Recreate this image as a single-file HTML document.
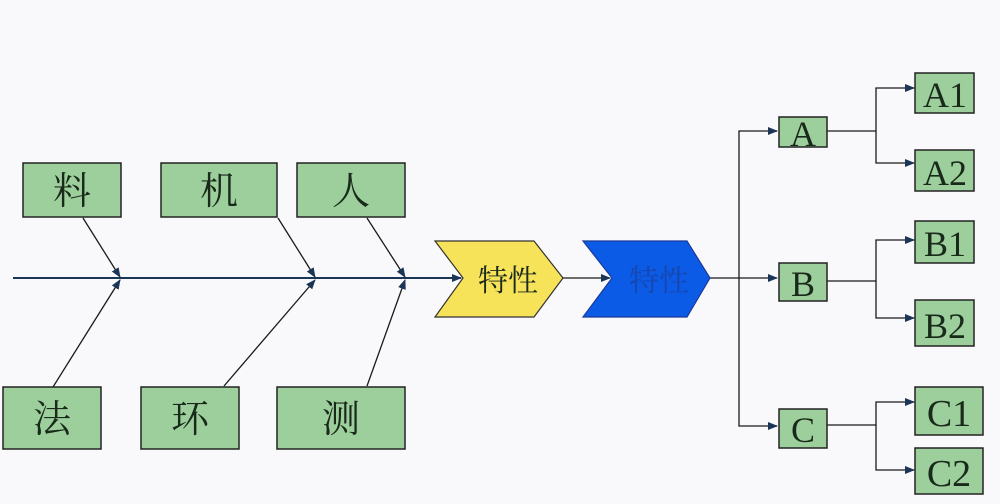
<!DOCTYPE html>
<html><head><meta charset="utf-8"><style>
html,body{margin:0;padding:0;background:#f9f9fb;}
svg{display:block}
text{font-family:"Liberation Serif","Noto Serif CJK SC",serif;fill:#1a2a1a}
.cj{font-family:"Liberation Serif","Noto Serif CJK SC",serif;font-weight:normal}
</style></head><body>
<svg width="1000" height="504" viewBox="0 0 1000 504" xmlns="http://www.w3.org/2000/svg">
<defs>
<marker id="ar" markerWidth="10" markerHeight="10" refX="9" refY="5" orient="auto" markerUnits="userSpaceOnUse">
<path d="M0,1 L10,5 L0,9 z" fill="#1b3556"/></marker>
</defs>
<rect width="1000" height="504" fill="#f9f9fb"/>
<g stroke="#1b3556" stroke-width="2" fill="none">
<line x1="13" y1="278" x2="461" y2="278" marker-end="url(#ar)"/>
</g>
<g stroke="#1a1a1a" stroke-width="1.3" fill="none">
<line x1="83" y1="218" x2="120" y2="277" marker-end="url(#ar)"/>
<line x1="53" y1="387" x2="120" y2="280" marker-end="url(#ar)"/>
<line x1="278" y1="218" x2="315" y2="277" marker-end="url(#ar)"/>
<line x1="224" y1="386" x2="315" y2="280" marker-end="url(#ar)"/>
<line x1="367" y1="218" x2="405" y2="277" marker-end="url(#ar)"/>
<line x1="367" y1="386" x2="405" y2="280" marker-end="url(#ar)"/>
<line x1="563" y1="278" x2="610" y2="278" marker-end="url(#ar)"/>
<line x1="710" y1="278" x2="777" y2="278" marker-end="url(#ar)"/>
<polyline points="777,131 739,131 739,426 777,426" />
<line x1="775" y1="131" x2="777" y2="131" marker-end="url(#ar)"/>
<line x1="775" y1="426" x2="777" y2="426" marker-end="url(#ar)"/>
<line x1="827" y1="131" x2="876" y2="131"/>
<polyline points="913,88 876,88 876,163 913,163"/>
<line x1="827" y1="281" x2="876" y2="281"/>
<polyline points="913,240 876,240 876,318 913,318"/>
<line x1="827" y1="425" x2="876" y2="425"/>
<polyline points="913,402 876,402 876,470 913,470"/>
<line x1="910" y1="88" x2="914" y2="88" marker-end="url(#ar)"/>
<line x1="910" y1="163" x2="914" y2="163" marker-end="url(#ar)"/>
<line x1="910" y1="240" x2="914" y2="240" marker-end="url(#ar)"/>
<line x1="910" y1="318" x2="914" y2="318" marker-end="url(#ar)"/>
<line x1="910" y1="402" x2="914" y2="402" marker-end="url(#ar)"/>
<line x1="910" y1="470" x2="914" y2="470" marker-end="url(#ar)"/>
</g>
<polygon points="435,241 534,241 563,278 534,317 435,317 463,278" fill="#f7e35a" stroke="#333" stroke-width="1.2"/>
<polygon points="583,241 687,241 710,278 687,317 583,317 612,278" fill="#0b5be6" stroke="#1a3a9a" stroke-width="1.2"/>
<text class="cj" x="508" y="291" font-size="30" text-anchor="middle">特性</text>
<text class="cj" x="659" y="291" font-size="30" text-anchor="middle" style="fill:#1746b0">特性</text>
<g fill="#9dcf9d" stroke="#222" stroke-width="1.5">
<rect x="23" y="163" width="98" height="54"/>
<rect x="161" y="163" width="116" height="54"/>
<rect x="297" y="163" width="108" height="54"/>
<rect x="3" y="387" width="98" height="62"/>
<rect x="141" y="387" width="98" height="62"/>
<rect x="277" y="387" width="128" height="62"/>
<rect x="779" y="117" width="48" height="30"/>
<rect x="779" y="263" width="48" height="38"/>
<rect x="779" y="409" width="48" height="39"/>
<rect x="915" y="73" width="59" height="40"/>
<rect x="915" y="150" width="59" height="41"/>
<rect x="915" y="221" width="59" height="42"/>
<rect x="915" y="300" width="59" height="46"/>
<rect x="915" y="387" width="68" height="48"/>
<rect x="915" y="448" width="68" height="46"/>
</g>
<g font-size="38" text-anchor="middle">
<text class="cj" x="72" y="204">料</text>
<text class="cj" x="219" y="204">机</text>
<text class="cj" x="351" y="204">人</text>
<text class="cj" x="52" y="432">法</text>
<text class="cj" x="190" y="432">环</text>
<text class="cj" x="341" y="432">测</text>
</g>
<g font-size="36" text-anchor="middle">
<text x="803" y="146">A</text>
<text x="803" y="296">B</text>
<text x="803" y="442">C</text>
<text x="945" y="107">A1</text>
<text x="945" y="185">A2</text>
<text x="945" y="256">B1</text>
<text x="945" y="338">B2</text>
<text x="949" y="426" font-size="38">C1</text>
<text x="949" y="486" font-size="38">C2</text>
</g>
</svg>
</body></html>
